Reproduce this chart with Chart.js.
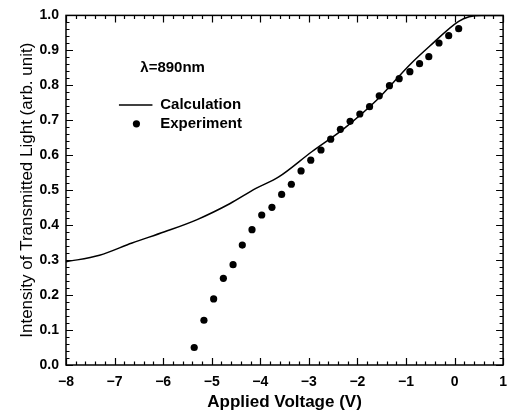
<!DOCTYPE html>
<html>
<head>
<meta charset="utf-8">
<script src="https://cdn.jsdelivr.net/npm/chart.js@4.4.1/dist/chart.umd.min.js"></script>
<style>
html,body{margin:0;padding:0;background:#fff;}
#wrap{width:516px;height:412px;position:relative;}
</style>
</head>
<body>
<div id="wrap"><canvas id="c" width="516" height="412"></canvas></div>
<script>
// ---- data ----
const calcX = [-8.0, -7.31, -6.64, -5.97, -5.30, -4.62, -4.09, -3.62, -2.94, -2.27, -1.60, -0.92, -0.52, 0.085, 0.30, 0.555, 1.0];
const calcY = [0.295, 0.314, 0.349, 0.381, 0.416, 0.462, 0.505, 0.538, 0.610, 0.677, 0.758, 0.859, 0.911, 0.983, 0.996, 1.0, 1.0];

const expX = [-5.36, -5.16, -4.96, -4.76, -4.56, -4.37, -4.17, -3.97, -3.76, -3.56, -3.36, -3.16, -2.96, -2.75,
              -2.55, -2.35, -2.15, -1.95, -1.75, -1.55, -1.34, -1.14, -0.92, -0.72, -0.53, -0.32, -0.12, 0.085];
const expY = [0.050, 0.128, 0.189, 0.248, 0.287, 0.343, 0.387, 0.429, 0.451, 0.488, 0.517, 0.555, 0.586, 0.615,
              0.646, 0.674, 0.697, 0.718, 0.739, 0.770, 0.799, 0.819, 0.839, 0.862, 0.882, 0.921, 0.942, 0.962];

const xTicks = [-8, -7, -6, -5, -4, -3, -2, -1, 0, 1];
const yTicks = [0.0, 0.1, 0.2, 0.3, 0.4, 0.5, 0.6, 0.7, 0.8, 0.9, 1.0];
const xMinorStep = 0.2;
const yMinorStep = 0.02;

const seriesNames = ['Calculation', 'Experiment'];
const annotationText = 'λ=890nm';
const xTitle = 'Applied Voltage (V)';
const yTitle = 'Intensity of Transmitted Light (arb. unit)';

const FONT = '"Liberation Sans", Arial, sans-serif';

const frameTicks = {
  id: 'frameTicks',
  afterDatasetsDraw(chart) {
    const {ctx, chartArea: a, scales: {x, y}} = chart;
    ctx.save();
    ctx.strokeStyle = '#000';
    ctx.lineWidth = 1.5;
    ctx.strokeRect(a.left, a.top, a.right - a.left, a.bottom - a.top);
    ctx.lineWidth = 1.2;
    ctx.beginPath();
    const xmin = xTicks[0], xmax = xTicks[xTicks.length - 1];
    const nx = Math.round((xmax - xmin) / xMinorStep);
    for (let i = 0; i <= nx; i++) {
      const v = xmin + i * xMinorStep;
      const major = Math.abs(v - Math.round(v)) < 1e-6;
      const L = major ? 7 : 3.5;
      const px = Math.round(x.getPixelForValue(v)) + 0.5;
      ctx.moveTo(px, a.bottom); ctx.lineTo(px, a.bottom - L);
      ctx.moveTo(px, a.top); ctx.lineTo(px, a.top + L);
    }
    const ymin = yTicks[0], ymax = yTicks[yTicks.length - 1];
    const ny = Math.round((ymax - ymin) / yMinorStep);
    for (let i = 0; i <= ny; i++) {
      const v = ymin + i * yMinorStep;
      const major = i % 5 === 0;
      const L = major ? 7 : 3.5;
      const py = Math.round(y.getPixelForValue(v)) + 0.5;
      ctx.moveTo(a.left, py); ctx.lineTo(a.left + L, py);
      ctx.moveTo(a.right, py); ctx.lineTo(a.right - L, py);
    }
    ctx.stroke();
    ctx.restore();
  },
  afterDraw(chart) {
    const {ctx, scales: {x, y}} = chart;
    ctx.save();
    ctx.fillStyle = '#000';
    ctx.strokeStyle = '#000';
    ctx.font = 'bold 15px ' + FONT;
    ctx.textBaseline = 'middle';
    ctx.textAlign = 'left';
    ctx.fillText(annotationText, x.getPixelForValue(-6.47), y.getPixelForValue(0.850));
    const lx0 = x.getPixelForValue(-6.91), lx1 = x.getPixelForValue(-6.22);
    const ly1 = y.getPixelForValue(0.744), ly2 = y.getPixelForValue(0.690);
    const tx = x.getPixelForValue(-6.06);
    ctx.lineWidth = 1.5;
    ctx.beginPath(); ctx.moveTo(lx0, ly1); ctx.lineTo(lx1, ly1); ctx.stroke();
    ctx.fillText(seriesNames[0], tx, ly1);
    ctx.beginPath(); ctx.arc(x.getPixelForValue(-6.55), ly2, 3.6, 0, Math.PI * 2); ctx.fill();
    ctx.fillText(seriesNames[1], tx, ly2);
    ctx.restore();
  }
};

new Chart(document.getElementById('c'), {
  type: 'scatter',
  data: {
    datasets: [
      {
        label: seriesNames[0],
        data: calcX.map((v, i) => ({x: v, y: calcY[i]})),
        showLine: true,
        borderColor: '#000',
        borderWidth: 1.5,
        pointRadius: 0,
        tension: 0.4,
        cubicInterpolationMode: 'monotone',
        fill: false
      },
      {
        label: seriesNames[1],
        data: expX.map((v, i) => ({x: v, y: expY[i]})),
        showLine: false,
        backgroundColor: '#000',
        borderColor: '#000',
        pointRadius: 3.6,
        pointBorderWidth: 0
      }
    ]
  },
  options: {
    responsive: false,
    animation: false,
    devicePixelRatio: 1,
    layout: {padding: {top: 15, right: 4, left: 0, bottom: 0}},
    plugins: {legend: {display: false}, tooltip: {enabled: false}},
    scales: {
      x: {
        type: 'linear',
        min: xTicks[0], max: xTicks[xTicks.length - 1],
        afterBuildTicks(s) { s.ticks = xTicks.map(v => ({value: v})); },
        afterFit(s) { s.height = 47; },
        grid: {display: false, drawTicks: false},
        border: {display: false},
        ticks: {
          color: '#000', padding: 9,
          font: {family: FONT, size: 14, weight: 'bold'},
          callback: v => String(v).replace('-', '\u2212')
        },
        title: {
          display: true, text: xTitle, color: '#000',
          font: {family: FONT, size: 17, weight: 'bold', lineHeight: 1.1},
          padding: {top: 0, bottom: 0}
        }
      },
      y: {
        type: 'linear',
        min: yTicks[0], max: yTicks[yTicks.length - 1],
        afterBuildTicks(s) { s.ticks = yTicks.map(v => ({value: v})); },
        afterFit(s) { s.width = 66; },
        grid: {display: false, drawTicks: false},
        border: {display: false},
        ticks: {
          color: '#000', padding: 7,
          font: {family: FONT, size: 14, weight: 'bold'},
          callback: v => Number(v).toFixed(1)
        },
        title: {
          display: true, text: yTitle, color: '#000',
          font: {family: FONT, size: 17, weight: 'normal', lineHeight: 1.2},
          padding: {top: 17, bottom: 0}
        }
      }
    }
  },
  plugins: [frameTicks]
});
</script>
</body>
</html>
